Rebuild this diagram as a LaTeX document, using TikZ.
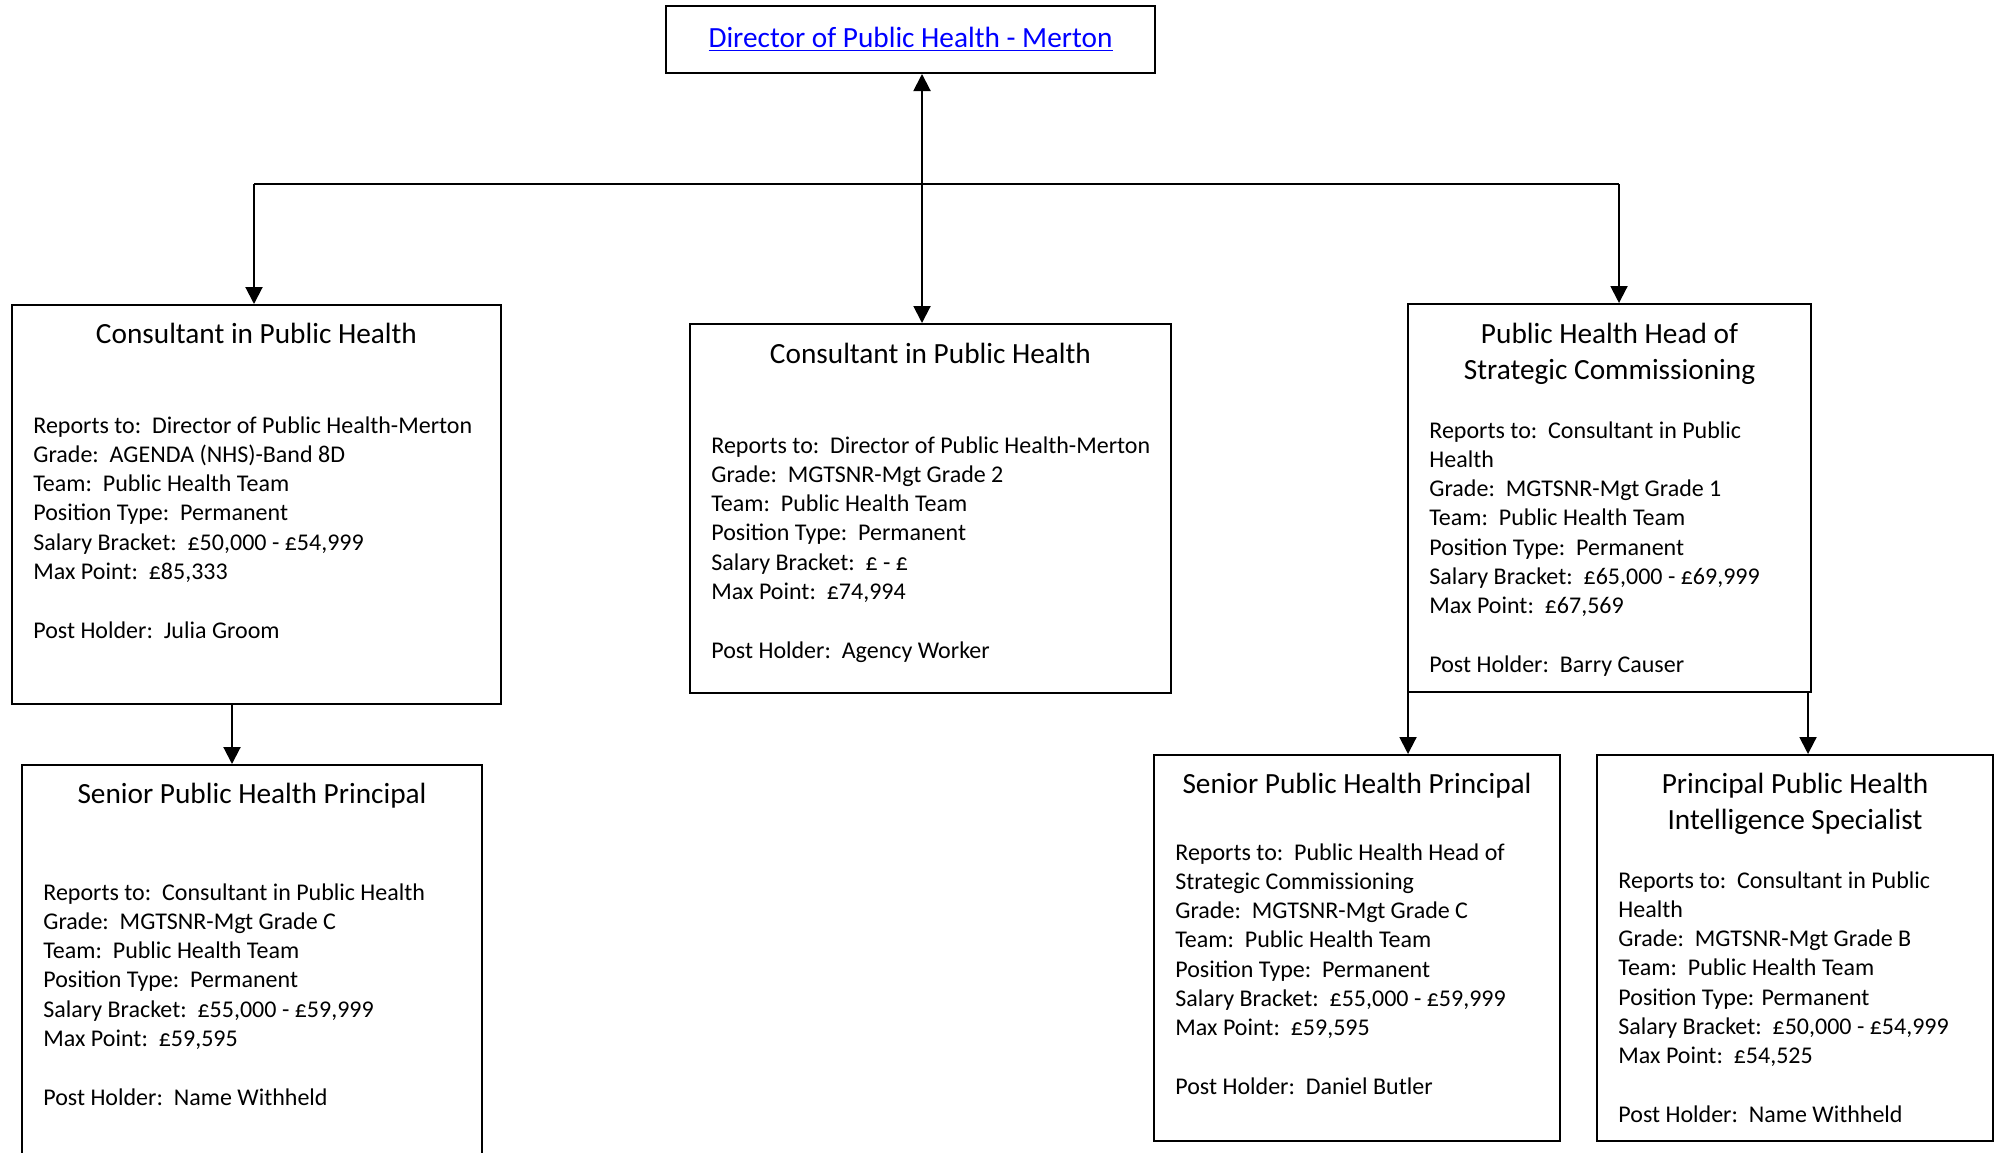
\documentclass[tikz,border=0pt]{standalone}
\usepackage{fontspec}
\setmainfont{Carlito}
\usetikzlibrary{arrows.meta,fit}
\begin{document}
\begin{tikzpicture}[x=0.5pt,y=-0.5pt,
  box/.style={draw,line width=1pt,inner sep=0pt},
  ttl/.style={anchor=base,inner sep=0pt,font=\fontsize{14.65}{18.3}\selectfont},
  bodytxt/.style={anchor=base west,inner sep=0pt,font=\fontsize{12}{14.65}\selectfont},
  conn/.style={line width=1pt},
  arr/.style={line width=1pt,-{Triangle[length=8.5pt,width=8.5pt]}},
  arrboth/.style={line width=1pt,{Triangle[length=8.5pt,width=8.5pt]}-{Triangle[length=8.5pt,width=8.5pt]}}]
\useasboundingbox (0,0) rectangle (1995,1152);
\clip (0,0) rectangle (1995,1152);

% boxes
\node[box,fit={(666,6) (1155,73)}] (top) {};
\node[box,fit={(12,305) (501,704)}] (A) {};
\node[box,fit={(690,324) (1171,693)}] (B) {};
\node[box,fit={(1408,304) (1811,692)}] (C) {};
\node[box,fit={(22,765) (482,1175)}] (D) {};
\node[box,fit={(1154,755) (1560,1141)}] (E) {};
\node[box,fit={(1597,755) (1993,1141)}] (F) {};

% top text
\node[ttl,text=blue] (topt) at (910.5,47) {\underline{Director of Public Health - Merton}};

% A
\node[ttl] (At) at (256.5,343) {Consultant in Public Health};
\node[bodytxt] (Ab) at (33,433) {\begin{tabular}[t]{@{}l@{}}
Reports to:\ \ Director of Public Health-Merton\\
Grade:\ \ AGENDA (NHS)-Band 8D\\
Team:\ \ Public Health Team\\
Position Type:\ \ Permanent\\
Salary Bracket:\ \ £50,000 - £54,999\\
Max Point:\ \ £85,333\\
\\
Post Holder:\ \ Julia Groom
\end{tabular}};

% B
\node[ttl] (Bt) at (930.5,363) {Consultant in Public Health};
\node[bodytxt] (Bb) at (711,453) {\begin{tabular}[t]{@{}l@{}}
Reports to:\ \ Director of Public Health-Merton\\
Grade:\ \ MGTSNR-Mgt Grade 2\\
Team:\ \ Public Health Team\\
Position Type:\ \ Permanent\\
Salary Bracket:\ \ £ - £\\
Max Point:\ \ £74,994\\
\\
Post Holder:\ \ Agency Worker
\end{tabular}};

% C
\node[ttl] (Ct) at (1609.5,343) {\begin{tabular}[t]{@{}c@{}}
Public Health Head of\\
Strategic Commissioning
\end{tabular}};
\node[bodytxt] (Cb) at (1429,438) {\begin{tabular}[t]{@{}l@{}}
Reports to:\ \ Consultant in Public\\
Health\\
Grade:\ \ MGTSNR-Mgt Grade 1\\
Team:\ \ Public Health Team\\
Position Type:\ \ Permanent\\
Salary Bracket:\ \ £65,000 - £69,999\\
Max Point:\ \ £67,569\\
\\
Post Holder:\ \ Barry Causer
\end{tabular}};

% D
\node[ttl] (Dt) at (252,803) {Senior Public Health Principal};
\node[bodytxt] (Db) at (43,900) {\begin{tabular}[t]{@{}l@{}}
Reports to:\ \ Consultant in Public Health\\
Grade:\ \ MGTSNR-Mgt Grade C\\
Team:\ \ Public Health Team\\
Position Type:\ \ Permanent\\
Salary Bracket:\ \ £55,000 - £59,999\\
Max Point:\ \ £59,595\\
\\
Post Holder:\ \ Name Withheld
\end{tabular}};

% E
\node[ttl] (Et) at (1357,793) {Senior Public Health Principal};
\node[bodytxt] (Eb) at (1175,860) {\begin{tabular}[t]{@{}l@{}}
Reports to:\ \ Public Health Head of\\
Strategic Commissioning\\
Grade:\ \ MGTSNR-Mgt Grade C\\
Team:\ \ Public Health Team\\
Position Type:\ \ Permanent\\
Salary Bracket:\ \ £55,000 - £59,999\\
Max Point:\ \ £59,595\\
\\
Post Holder:\ \ Daniel Butler
\end{tabular}};

% F
\node[ttl] (Ft) at (1795,793) {\begin{tabular}[t]{@{}c@{}}
Principal Public Health\\
Intelligence Specialist
\end{tabular}};
\node[bodytxt] (Fb) at (1618,888) {\begin{tabular}[t]{@{}l@{}}
Reports to:\ \ Consultant in Public\\
Health\\
Grade:\ \ MGTSNR-Mgt Grade B\\
Team:\ \ Public Health Team\\
Position Type: Permanent\\
Salary Bracket:\ \ £50,000 - £54,999\\
Max Point:\ \ £54,525\\
\\
Post Holder:\ \ Name Withheld
\end{tabular}};

% connectors
\coordinate (m) at (922,184);
\coordinate (aL) at (254,184);
\coordinate (cR) at (1619,184);
\coordinate (ad) at (232,0);
\coordinate (ce) at (1408,0);
\coordinate (cf) at (1808,0);
\draw[arrboth] (top.south -| m) -- (B.north -| m);
\draw[conn] (aL) -- (cR);
\draw[arr] (aL) -- (A.north -| aL);
\draw[arr] (cR) -- (C.north -| cR);
\draw[arr] (A.south -| ad) -- (D.north -| ad);
\draw[arr] (C.south -| ce) -- (E.north -| ce);
\draw[arr] (C.south -| cf) -- (F.north -| cf);
\end{tikzpicture}
\end{document}
